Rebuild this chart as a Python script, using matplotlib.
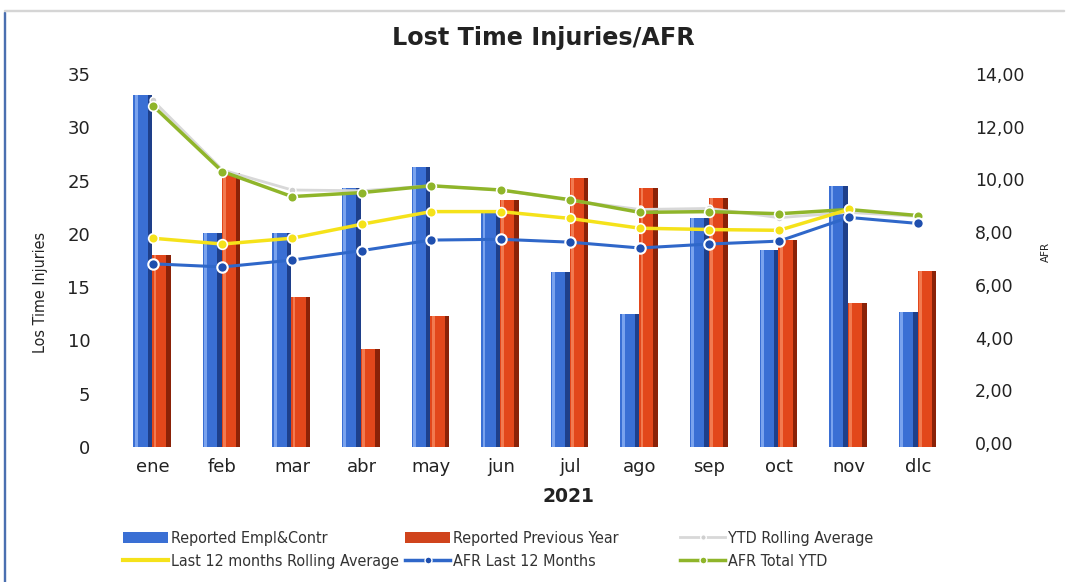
import numpy as np
import matplotlib
matplotlib.use("Agg")
import matplotlib.pyplot as plt
from matplotlib.lines import Line2D
from matplotlib.patches import Patch, Rectangle

months = ["ene", "feb", "mar", "abr", "may", "jun", "jul", "ago", "sep", "oct", "nov", "dic"]
tick_labels = ["ene", "feb", "mar", "abr", "may", "jun", "jul", "ago", "sep", "oct", "nov", "dlc"]
reported_empl = [33.0, 20.1, 20.1, 24.3, 26.3, 22.1, 16.4, 12.5, 21.5, 18.5, 24.5, 12.7]
reported_prev = [18.0, 25.7, 14.1, 9.2, 12.3, 23.2, 25.2, 24.3, 23.4, 19.4, 13.5, 16.5]
ytd_rolling = [13.0, 10.36, 9.6, 9.57, 9.76, 9.6, 9.2, 8.86, 8.9, 8.55, 8.75, 8.6]
last12_rolling = [7.77, 7.55, 7.77, 8.3, 8.78, 8.78, 8.52, 8.15, 8.1, 8.07, 8.86, np.nan]
afr_last12 = [6.8, 6.68, 6.94, 7.3, 7.7, 7.73, 7.62, 7.4, 7.55, 7.66, 8.56, 8.33]
afr_total_ytd = [12.8, 10.3, 9.35, 9.5, 9.76, 9.6, 9.23, 8.75, 8.78, 8.7, 8.86, 8.63]
left_ticks = [0, 5, 10, 15, 20, 25, 30, 35]
right_ticks = [0, 2, 4, 6, 8, 10, 12, 14]

plt.rcParams["font.family"] = ["DejaVu Sans"]
narrow = dict(family=["Liberation Sans Narrow", "DejaVu Sans"], stretch="condensed")

fig = plt.figure(figsize=(10.72, 5.82), dpi=100)
ax = fig.add_axes([118 / 1072, 1 - 447 / 582, (953 - 118) / 1072, (447 - 74) / 582])
ax2 = ax.twinx()

x = np.arange(len(months))
w = 0.27
blue = "#3a6fd4"
blue_dark = "#1e3f8a"
red = "#e2471b"
red_dark = "#8a2208"

xb = x - 0.145
xr = x + 0.125
ax.bar(xb, reported_empl, width=w, color=blue, zorder=2)
ax.bar(xb - w * 0.35, reported_empl, width=w * 0.15, color="#7aa3ee", zorder=3)
ax.bar(xb + w * 0.38, reported_empl, width=w * 0.24, color=blue_dark, zorder=3)
ax.bar(xr, reported_prev, width=w, color=red, zorder=2)
ax.bar(xr - w * 0.35, reported_prev, width=w * 0.15, color="#f27a50", zorder=3)
ax.bar(xr + w * 0.38, reported_prev, width=w * 0.24, color=red_dark, zorder=3)

ax.set_ylim(0, 35)
ax.set_xlim(-0.5, 11.5)
ax.set_yticks(left_ticks)
ax.set_yticklabels([str(t) for t in left_ticks], fontsize=13, color="#222222")
ax.set_xticks(x)
ax.set_xticklabels(tick_labels, fontsize=13, color="#222222")
ax.tick_params(axis="both", length=0, pad=8)
ax.tick_params(axis="y", pad=20)
for s in ax.spines.values():
    s.set_visible(False)
for s in ax2.spines.values():
    s.set_visible(False)

ax2.set_ylim(-0.15, 13.85)
ax2.set_yticks(right_ticks)
ax2.set_yticklabels([f"{t},00" for t in right_ticks], fontsize=12.5, color="#222222")
ax2.tick_params(axis="y", length=0, pad=16)

ax2.plot(x, ytd_rolling, color="#d8d8d8", lw=2, marker="o", ms=5, mfc="#cfcfcf", mec="white", zorder=3)
ax2.plot(x, afr_total_ytd, color="#8fb52a", lw=2.5, marker="o", ms=7, mfc="#8fb52a", mec="white", mew=1.2, zorder=4)
ax2.plot(x, last12_rolling, color="#f5e21a", lw=2.5, marker="o", ms=7, mfc="#f5e21a", mec="white", mew=1.2, zorder=4)
ax2.plot(x, afr_last12, color="#2f67c9", lw=2.2, marker="o", ms=7.5, mfc="#1f4fae", mec="white", mew=1.5, zorder=5)

ax.set_zorder(ax2.get_zorder() - 1)
ax2.patch.set_visible(False)

fig.text(543 / 1072, 1 - 38 / 582, "Lost Time Injuries/AFR", ha="center", va="center",
         fontsize=17.2, fontweight="bold", color="#222222")
fig.text(568 / 1072, 1 - 497 / 582, "2021", ha="center", va="center",
         fontsize=13.5, fontweight="bold", color="#222222")
fig.text(40 / 1072, 1 - 292 / 582, "Los Time Injuries", ha="center", va="center", rotation=90,
         fontsize=11.5, color="#222222", **narrow)
fig.text(1046 / 1072, 1 - 252 / 582, "AFR", ha="center", va="center", rotation=90,
         fontsize=7.5, color="#222222")

h_blue = Patch(facecolor="#3a6fd4")
h_yellow = Line2D([0], [0], color="#f5e21a", lw=3)
h_red = Patch(facecolor="#d0441c")
h_afr12 = Line2D([0], [0], color="#2f67c9", lw=2.5, marker="o", ms=5, mfc="#1f4fae", mec="white")
h_ytd = Line2D([0], [0], color="#d8d8d8", lw=2, marker="o", ms=4, mfc="#cfcfcf", mec="white")
h_green = Line2D([0], [0], color="#8fb52a", lw=2.5, marker="o", ms=5, mfc="#8fb52a", mec="white")

legend_cols = [
    ([h_blue, h_yellow], ["Reported Empl&Contr", "Last 12 months Rolling Average"], 120),
    ([h_red, h_afr12], ["Reported Previous Year", "AFR Last 12 Months"], 402),
    ([h_ytd, h_green], ["YTD Rolling Average", "AFR Total YTD"], 677),
]
for hs, ls, xpx in legend_cols:
    fig.legend(hs, ls, ncol=1, loc="center left", bbox_to_anchor=(xpx / 1072, 1 - 550 / 582),
               frameon=False, prop={"family": ["Liberation Sans Narrow", "DejaVu Sans"],
                                    "stretch": "condensed", "size": 11.5},
               handlelength=2.8, handletextpad=0.2, labelspacing=0.5, borderaxespad=0,
               borderpad=0.2, labelcolor="#333333")

fig.patches.append(Rectangle((4 / 1072, 0.0), 1.2 / 1072, 1 - 12 / 582, transform=fig.transFigure,
                             color="#4a6fb0", zorder=0))
fig.patches.append(Rectangle((4 / 1072, 1 - 11 / 582), 1060 / 1072, 0.8 / 582, transform=fig.transFigure,
                             color="#d5d5d5", zorder=0))

fig.savefig("out.png", dpi=100)
